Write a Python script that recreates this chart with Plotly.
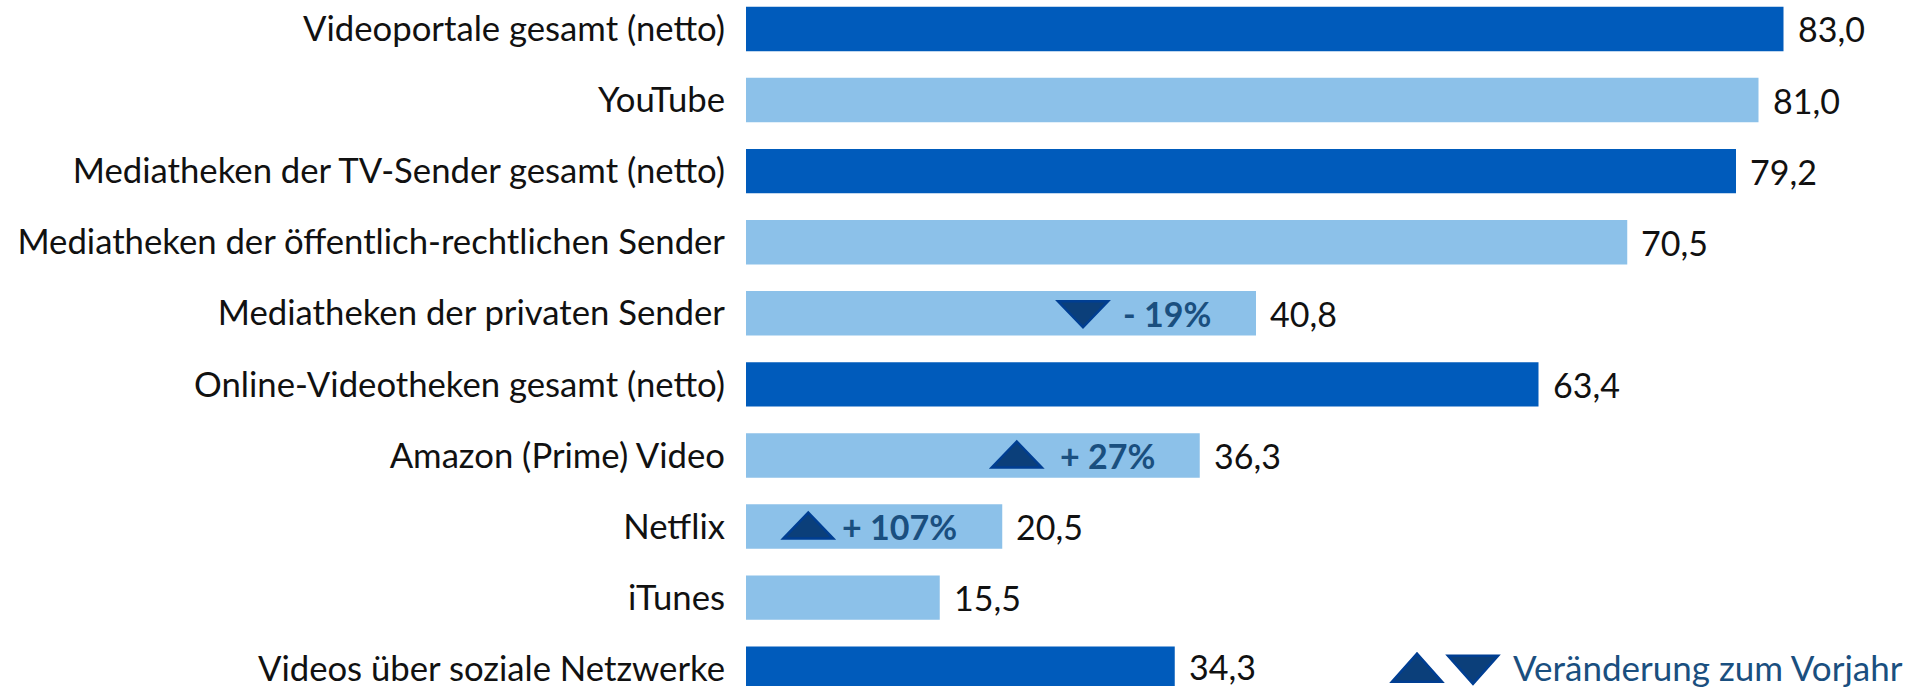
import plotly.graph_objects as go

# ---- data ----
categories = [
    "Videoportale gesamt (netto)",
    "YouTube",
    "Mediatheken der TV-Sender gesamt (netto)",
    "Mediatheken der öffentlich-rechtlichen Sender",
    "Mediatheken der privaten Sender",
    "Online-Videotheken gesamt (netto)",
    "Amazon (Prime) Video",
    "Netflix",
    "iTunes",
    "Videos über soziale Netzwerke",
]
values = [83.0, 81.0, 79.2, 70.5, 40.8, 63.4, 36.3, 20.5, 15.5, 34.3]
is_total = [True, False, True, False, False, True, False, False, False, True]

change_categories = ["Mediatheken der privaten Sender", "Amazon (Prime) Video", "Netflix"]
change_labels = ["- 19%", "+ 27%", "+ 107%"]
change_directions = ["down", "up", "up"]

legend_text = "Veränderung zum Vorjahr"

# ---- style ----
DARK = "#005BBB"
LIGHT = "#8CC1E9"
TRI_FILL = "#0B3F7A"
TRI_LINE = "#003E92"
ANN_COLOR = "#1A4F7F"
FONT = "Lato"

W, H = 1909, 688
ML = 746
PX_PER_UNIT = 12.5
ROW_PX = 71.3
FIRST_CENTER = 29

x_max = (W - ML) / PX_PER_UNIT
y_top = -FIRST_CENTER / ROW_PX
y_bot = (H - FIRST_CENTER) / ROW_PX

colors = [DARK if t else LIGHT for t in is_total]

fig = go.Figure()
fig.add_trace(go.Bar(
    y=categories, x=values, orientation="h",
    marker=dict(color=colors, line=dict(width=0)),
    width=0.625, hoverinfo="skip",
))

annotations = []
for c, v in zip(categories, values):
    annotations.append(dict(
        x=v, y=c, xref="x", yref="y", text=f"{v:.1f}".replace(".", ","),
        showarrow=False, xanchor="left", yanchor="middle", xshift=12,
        yshift=2 if c == categories[-1] else 0,
        font=dict(family=FONT, size=34, color="#111111"),
    ))

def est_width(s):
    w = {"%": 26, "+": 18, "-": 11, " ": 8}
    return sum(w.get(ch, 18.3) for ch in s)

def tri_path(direction, cx, h=25):
    top = h // 2 + 1
    bot = h - top
    if direction == "up":
        return f"M {cx-25},-{bot} L {cx+25},-{bot} L {cx},{top} Z"
    return f"M {cx-25},{bot} L {cx+25},{bot} L {cx},-{top} Z"

shapes = []
for cat, lab, d in zip(change_categories, change_labels, change_directions):
    v = values[categories.index(cat)]
    annotations.append(dict(
        x=v, y=cat, xref="x", yref="y", text=f"<b>{lab}</b>",
        showarrow=False, xanchor="right", yanchor="middle", xshift=-43,
        font=dict(family=FONT, size=34, color=ANN_COLOR),
    ))
    off = round(-43 - est_width(lab) * 1.05 - 44 + (len(lab) - 5) * 8 - (3 if d == "up" else 0))
    shapes.append(dict(
        type="path", xref="x", yref="y", xsizemode="pixel", ysizemode="pixel",
        xanchor=v, yanchor=cat, path=tri_path(d, off, 26),
        fillcolor=TRI_FILL, line=dict(color=TRI_LINE, width=2.5),
    ))

# legend (bottom right)
last_cat = categories[-1]
leg_x = (1514 - ML) / PX_PER_UNIT
for i, d in enumerate(["up", "down"]):
    cx = -97 + i * 56
    shapes.append(dict(
        type="path", xref="x", yref="y", xsizemode="pixel", ysizemode="pixel",
        xanchor=leg_x, yanchor=last_cat, path=tri_path(d, cx, 28),
        fillcolor=TRI_FILL, line=dict(color=TRI_LINE, width=2.5),
    ))
annotations.append(dict(
    x=leg_x, y=last_cat, xref="x", yref="y", text=legend_text,
    showarrow=False, xanchor="left", yanchor="middle", xshift=-3, yshift=2,
    font=dict(family=FONT, size=35, color=ANN_COLOR),
))

fig.update_layout(
    width=W, height=H,
    margin=dict(l=ML, r=0, t=0, b=0, pad=0),
    plot_bgcolor="white", paper_bgcolor="white",
    showlegend=False,
    xaxis=dict(range=[0, x_max], visible=False, fixedrange=True),
    yaxis=dict(
        type="category", categoryorder="array", categoryarray=categories,
        range=[y_bot, y_top], showgrid=False, zeroline=False, showline=False,
        ticks="", ticklabelstandoff=20, fixedrange=True,
        tickfont=dict(family=FONT, size=34.7, color="#111111"),
    ),
    annotations=annotations, shapes=shapes,
)

fig.write_html("out.html", config={"displayModeBar": False},
               post_script="document.body.style.margin='0';")
